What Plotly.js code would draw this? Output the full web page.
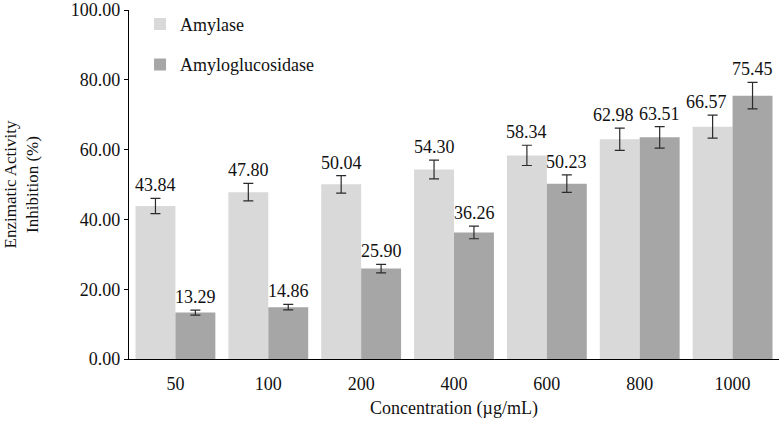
<!DOCTYPE html>
<html>
<head>
<meta charset="utf-8">
<script src="https://cdn.plot.ly/plotly-3.0.1.min.js"></script>
<style>html,body{margin:0;padding:0;background:#fff;}#chart{width:780px;height:422px;}</style>
</head>
<body>
<div id="chart"></div>
<script>
const categories = ['50', '100', '200', '400', '600', '800', '1000'];
const amylase = [43.84, 47.80, 50.04, 54.30, 58.34, 62.98, 66.57];
const amylaseErr = [2.2, 2.5, 2.5, 2.7, 2.9, 3.2, 3.3];
const amyloglucosidase = [13.29, 14.86, 25.90, 36.26, 50.23, 63.51, 75.45];
const amyloglucosidaseErr = [0.7, 0.8, 1.2, 1.8, 2.5, 3.1, 3.8];
const yTicks = [0, 20, 40, 60, 80, 100];

const FONT = 'Liberation Serif';
const FS = 18;

const traces = [
  {
    type: 'bar', name: 'Amylase', x: categories, y: amylase,
    marker: {color: '#d9d9d9'}, legendgroup: 'a',
    error_y: {type: 'data', array: amylaseErr, visible: true, color: '#2b2b2b', thickness: 1.2, width: 5}
  },
  {
    type: 'bar', name: 'Amyloglucosidase', x: categories, y: amyloglucosidase,
    marker: {color: '#a6a6a6'}, legendgroup: 'b',
    error_y: {type: 'data', array: amyloglucosidaseErr, visible: true, color: '#2b2b2b', thickness: 1.2, width: 5}
  }
];

const annotations = [];
const shift = 20;
categories.forEach((c, i) => {
  const topA = amylase[i] + amylaseErr[i];
  const topB = amyloglucosidase[i] + amyloglucosidaseErr[i];
  // nudge the left label away when the two labels sit at similar heights
  const nudge = (topB - topA > -4 && topB - topA < 12) ? 6 : 0;
  annotations.push({x: i, y: topA, text: amylase[i].toFixed(2), xref: 'x', yref: 'y',
    showarrow: false, xshift: -shift - nudge, yanchor: 'bottom', yshift: 1, font: {family: FONT, size: FS, color: '#111'}});
  annotations.push({x: i, y: topB, text: amyloglucosidase[i].toFixed(2), xref: 'x', yref: 'y',
    showarrow: false, xshift: shift, yanchor: 'bottom', yshift: 1, font: {family: FONT, size: FS, color: '#111'}});
});

const layout = {
  width: 780, height: 422,
  margin: {l: 129, r: 1, t: 10, b: 63},
  paper_bgcolor: '#fff', plot_bgcolor: '#fff',
  font: {family: FONT, size: FS, color: '#111'},
  barmode: 'group', bargap: 0.14, bargroupgap: 0,
  showlegend: true,
  legend: {x: 0.017, y: 1.012, xanchor: 'left', yanchor: 'top', bgcolor: 'rgba(0,0,0,0)',
    font: {family: FONT, size: FS, color: '#111'}, tracegroupgap: 14, itemwidth: 30},
  xaxis: {
    type: 'category', range: [-0.5, categories.length - 0.5], showline: true, linecolor: '#000', linewidth: 1.2, ticks: '',
    showgrid: false, zeroline: false, tickfont: {family: FONT, size: FS}, ticklabelstandoff: 8,
    title: {text: 'Concentration (µg/mL)', font: {family: FONT, size: FS}, standoff: 8}
  },
  yaxis: {
    range: [0, 100], tickvals: yTicks, tickformat: '.2f', showline: true, linecolor: '#000', linewidth: 1.2,
    ticks: 'outside', ticklen: 4, tickcolor: '#000', showgrid: false, zeroline: false,
    tickfont: {family: FONT, size: FS},
    title: {text: 'Enzimatic Activity<br>Inhibition (%)', font: {family: FONT, size: 17}, standoff: 27}
  },
  annotations: annotations
};

Plotly.newPlot('chart', traces, layout, {displayModeBar: false, staticPlot: true});
</script>
</body>
</html>
